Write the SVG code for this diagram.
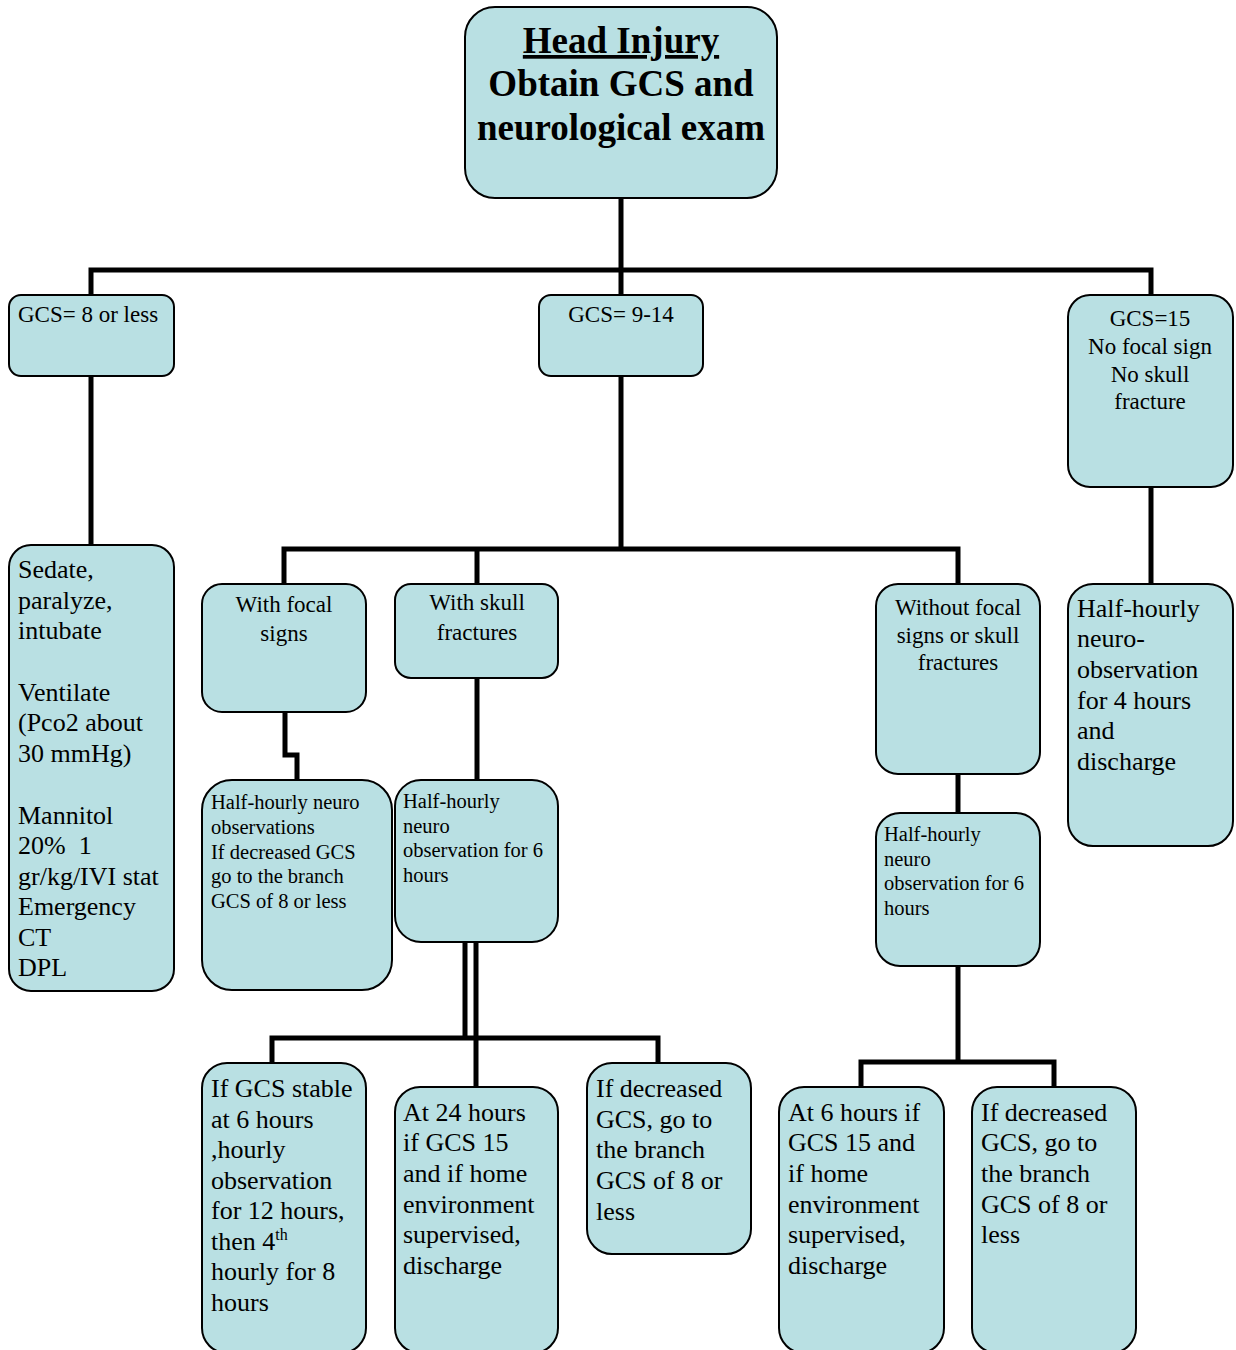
<svg xmlns="http://www.w3.org/2000/svg" width="1236" height="1350" viewBox="0 0 1236 1350">
<style>
.box{fill:#b9e0e3;stroke:#000;stroke-width:2}
.c{fill:none;stroke:#000;stroke-width:5;stroke-linecap:square}
text{font-family:"Liberation Serif","Times New Roman",serif;fill:#000}
.t{font-size:37px;font-weight:bold;text-anchor:middle}
.m{font-size:23px}
.mc{font-size:23px;text-anchor:middle}
.l{font-size:26px}
.s{font-size:20.5px}
</style>
<rect width="1236" height="1350" fill="#fff"/>
<g id="connectors">
<path class="c" d="M621 198V270M91 270H1151M91 270V295M621 270V295M1151 270V295"/>
<path class="c" d="M91 376V545"/>
<path class="c" d="M621 376V549M284 549H958M284 549V584M477 549V584M958 549V584"/>
<path class="c" d="M1151 487V584"/>
<path class="c" d="M285 712V755H297V780"/>
<path class="c" d="M477 678V780"/>
<path class="c" d="M465 942V1038M476 942V1087M272 1038H658M272 1038V1063M658 1038V1063"/>
<path class="c" d="M958 774V813"/>
<path class="c" d="M958 966V1062M861 1062H1054M861 1062V1087M1054 1062V1087"/>
</g>
<g id="n-head"><rect class="box" x="465" y="7" width="312" height="191" rx="30"/>
<text class="t" x="621" y="53" text-decoration="underline">Head Injury</text>
<text class="t" x="621" y="96">Obtain GCS and</text>
<text class="t" x="621" y="140">neurological exam</text></g>
<g id="n-gcs8"><rect class="box" x="9" y="295" width="165" height="81" rx="12"/>
<text class="m" x="18" y="322">GCS= 8 or less</text></g>
<g id="n-gcs914"><rect class="box" x="539" y="295" width="164" height="81" rx="12"/>
<text class="mc" x="621" y="322">GCS= 9-14</text></g>
<g id="n-gcs15"><rect class="box" x="1068" y="295" width="165" height="192" rx="22"/>
<text class="mc" x="1150" y="326">GCS=15</text>
<text class="mc" x="1150" y="354">No focal sign</text>
<text class="mc" x="1150" y="382">No skull</text>
<text class="mc" x="1150" y="409">fracture</text></g>
<g id="n-sedate"><rect class="box" x="9" y="545" width="165" height="446" rx="22"/>
<text class="l" x="18" y="578">Sedate,</text>
<text class="l" x="18" y="609">paralyze,</text>
<text class="l" x="18" y="639">intubate</text>
<text class="l" x="18" y="701">Ventilate</text>
<text class="l" x="18" y="731">(Pco2 about</text>
<text class="l" x="18" y="762">30 mmHg)</text>
<text class="l" x="18" y="824">Mannitol</text>
<text class="l" x="18" y="854" xml:space="preserve">20%  1</text>
<text class="l" x="18" y="885">gr/kg/IVI stat</text>
<text class="l" x="18" y="915">Emergency</text>
<text class="l" x="18" y="946">CT</text>
<text class="l" x="18" y="976">DPL</text></g>
<g id="n-focal"><rect class="box" x="202" y="584" width="164" height="128" rx="20"/>
<text class="mc" x="284" y="612">With focal</text>
<text class="mc" x="284" y="641">signs</text></g>
<g id="n-skull"><rect class="box" x="395" y="584" width="163" height="94" rx="16"/>
<text class="mc" x="477" y="610">With skull</text>
<text class="mc" x="477" y="640">fractures</text></g>
<g id="n-without"><rect class="box" x="876" y="584" width="164" height="190" rx="22"/>
<text class="mc" x="958" y="615">Without focal</text>
<text class="mc" x="958" y="643">signs or skull</text>
<text class="mc" x="958" y="670">fractures</text></g>
<g id="n-halfhourly4"><rect class="box" x="1068" y="584" width="165" height="262" rx="25"/>
<text class="l" x="1077" y="617">Half-hourly</text>
<text class="l" x="1077" y="647">neuro-</text>
<text class="l" x="1077" y="678">observation</text>
<text class="l" x="1077" y="709">for 4 hours</text>
<text class="l" x="1077" y="739">and</text>
<text class="l" x="1077" y="770">discharge</text></g>
<g id="n-focal-obs"><rect class="box" x="202" y="780" width="190" height="210" rx="30"/>
<text class="s" x="211" y="809">Half-hourly neuro</text>
<text class="s" x="211" y="834">observations</text>
<text class="s" x="211" y="859">If decreased GCS</text>
<text class="s" x="211" y="883">go to the branch</text>
<text class="s" x="211" y="908">GCS of 8 or less</text></g>
<g id="n-skull-obs"><rect class="box" x="395" y="780" width="163" height="162" rx="26"/>
<text class="s" x="403" y="808">Half-hourly</text>
<text class="s" x="403" y="833">neuro</text>
<text class="s" x="403" y="857">observation for 6</text>
<text class="s" x="403" y="882">hours</text></g>
<g id="n-without-obs"><rect class="box" x="876" y="813" width="164" height="153" rx="24"/>
<text class="s" x="884" y="841">Half-hourly</text>
<text class="s" x="884" y="866">neuro</text>
<text class="s" x="884" y="890">observation for 6</text>
<text class="s" x="884" y="915">hours</text></g>
<g id="n-stable"><rect class="box" x="202" y="1063" width="164" height="290" rx="25"/>
<text class="l" x="211" y="1097">If GCS stable</text>
<text class="l" x="211" y="1128">at 6 hours</text>
<text class="l" x="211" y="1158">,hourly</text>
<text class="l" x="211" y="1189">observation</text>
<text class="l" x="211" y="1219">for 12 hours,</text>
<text class="l" x="211" y="1250">then 4<tspan font-size="16" dy="-10">th</tspan></text>
<text class="l" x="211" y="1280">hourly for 8</text>
<text class="l" x="211" y="1311">hours</text></g>
<g id="n-24h"><rect class="box" x="395" y="1087" width="163" height="266" rx="25"/>
<text class="l" x="403" y="1121">At 24 hours</text>
<text class="l" x="403" y="1151">if GCS 15</text>
<text class="l" x="403" y="1182">and if home</text>
<text class="l" x="403" y="1213">environment</text>
<text class="l" x="403" y="1243">supervised,</text>
<text class="l" x="403" y="1274">discharge</text></g>
<g id="n-decr1"><rect class="box" x="587" y="1063" width="164" height="191" rx="25"/>
<text class="l" x="596" y="1097">If decreased</text>
<text class="l" x="596" y="1128">GCS, go to</text>
<text class="l" x="596" y="1158">the branch</text>
<text class="l" x="596" y="1189">GCS of 8 or</text>
<text class="l" x="596" y="1220">less</text></g>
<g id="n-6h"><rect class="box" x="779" y="1087" width="165" height="266" rx="25"/>
<text class="l" x="788" y="1121">At 6 hours if</text>
<text class="l" x="788" y="1151">GCS 15 and</text>
<text class="l" x="788" y="1182">if home</text>
<text class="l" x="788" y="1213">environment</text>
<text class="l" x="788" y="1243">supervised,</text>
<text class="l" x="788" y="1274">discharge</text></g>
<g id="n-decr2"><rect class="box" x="972" y="1087" width="164" height="266" rx="25"/>
<text class="l" x="981" y="1121">If decreased</text>
<text class="l" x="981" y="1151">GCS, go to</text>
<text class="l" x="981" y="1182">the branch</text>
<text class="l" x="981" y="1213">GCS of 8 or</text>
<text class="l" x="981" y="1243">less</text></g>
</svg>
